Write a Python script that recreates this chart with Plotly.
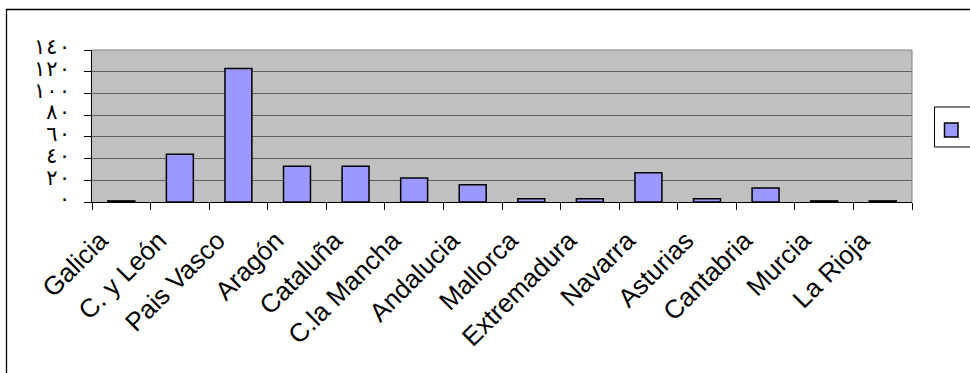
import plotly.graph_objects as go

regions = ["Galicia", "C. y León", "Pais Vasco", "Aragón", "Cataluña", "C.la Mancha",
           "Andalucia", "Mallorca", "Extremadura", "Navarra", "Asturias", "Cantabria",
           "Murcia", "La Rioja"]
values = [1, 44, 123, 33, 33, 22, 16, 3, 3, 27, 3, 13, 1, 1]
y_tick_values = [0, 20, 40, 60, 80, 100, 120, 140]
y_tick_labels = ["٠", "٢٠", "٤٠", "٦٠", "٨٠", "١٠٠", "١٢٠", "١٤٠"]

W, H = 970, 373
ML, MR, MT, MB = 92, 58, 50, 171
pw = W - ML - MR
ph = H - MT - MB


def px_x(p):
    return (p - ML) / pw


def px_y(p):
    return (H - MB - p) / ph


fig = go.Figure()
fig.add_trace(go.Bar(
    x=regions, y=values, name="Serie1",
    marker=dict(color="#9999FF", line=dict(color="black", width=1.5)),
    showlegend=False,
))

shapes = [
    # outer chart border
    dict(type="rect", xref="paper", yref="paper",
         x0=px_x(6.5), x1=px_x(980), y0=px_y(9.5), y1=px_y(390),
         line=dict(color="black", width=1.3), fillcolor="rgba(0,0,0,0)", layer="below"),
    # plot area right/top border
    dict(type="line", xref="paper", yref="paper", x0=1, x1=1, y0=0, y1=1,
         line=dict(color="#808080", width=1)),
    dict(type="line", xref="paper", yref="paper", x0=0, x1=1, y0=1, y1=1,
         line=dict(color="#808080", width=1)),
    # legend box
    dict(type="rect", xref="paper", yref="paper",
         x0=px_x(934.5), x1=px_x(990), y0=px_y(107), y1=px_y(147),
         line=dict(color="black", width=1), fillcolor="white"),
    dict(type="rect", xref="paper", yref="paper",
         x0=px_x(944.5), x1=px_x(958), y0=px_y(123), y1=px_y(137),
         line=dict(color="black", width=1.5), fillcolor="#9999FF"),
]

fig.update_layout(
    width=W, height=H,
    margin=dict(l=ML, r=MR, t=MT, b=MB, autoexpand=False),
    paper_bgcolor="white",
    plot_bgcolor="#C0C0C0",
    bargap=0.54,
    shapes=shapes,
    xaxis=dict(
        type="category",
        tickangle=-45,
        tickfont=dict(family="Liberation Sans, Arial", size=26, color="black"),
        showgrid=False,
        showline=True, linecolor="black", linewidth=1,
        ticks="outside", ticklen=7, tickcolor="black", tickwidth=1,
        tickson="boundaries",
        ticklabelstandoff=12,
        ticklabelshift=-21,
    ),
    yaxis=dict(
        range=[0, 140],
        tickvals=y_tick_values, ticktext=y_tick_labels,
        tickfont=dict(family="DejaVu Sans Mono, DejaVu Sans", size=21, color="black"),
        showgrid=True, gridcolor="#606060", gridwidth=1,
        showline=True, linecolor="black", linewidth=1,
        ticks="outside", ticklen=7, tickcolor="black", tickwidth=1,
        ticklabelstandoff=9,
        ticklabelshift=-3,
        zeroline=False,
    ),
)

fig.write_html("out.html", post_script="document.body.style.margin='0';",
               config={"displayModeBar": False})
